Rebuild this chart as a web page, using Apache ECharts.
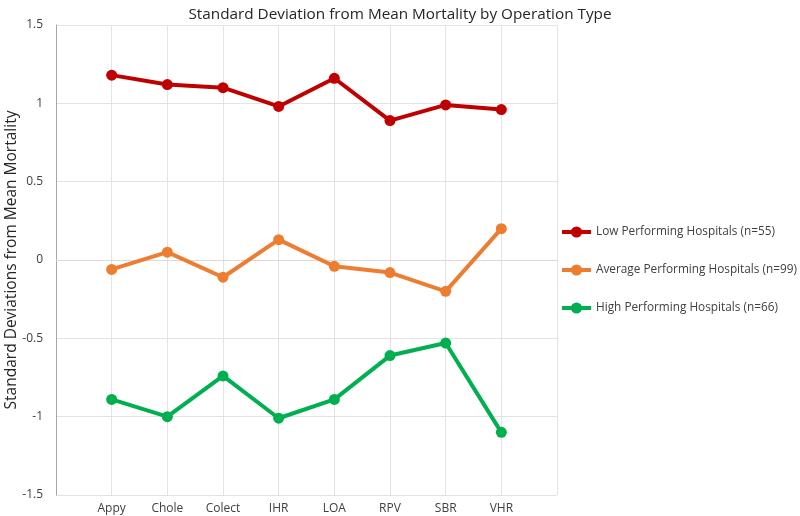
<!DOCTYPE html>
<html>
<head>
<meta charset="utf-8">
<script src="https://cdn.jsdelivr.net/npm/echarts@6/dist/echarts.min.js"></script>
<style>html,body{margin:0;padding:0;background:#fff}#c{width:800px;height:516px}</style>
</head>
<body>
<div id="c"></div>
<script>
var categories = ['Appy', 'Chole', 'Colect', 'IHR', 'LOA', 'RPV', 'SBR', 'VHR'];
var lowPerforming = [1.18, 1.12, 1.10, 0.98, 1.16, 0.89, 0.99, 0.96];
var averagePerforming = [-0.06, 0.05, -0.11, 0.13, -0.04, -0.08, -0.20, 0.20];
var highPerforming = [-0.89, -1.00, -0.74, -1.01, -0.89, -0.61, -0.53, -1.10];
var yTicks = { min: -1.5, max: 1.5, interval: 0.5 };

var axisCats = [''].concat(categories, ['']);
function pad(arr) { return [null].concat(arr, [null]); }

var font = 'Open Sans';
var chart = echarts.init(document.getElementById('c'));
function mk(name, data, color) {
  return {
    name: name, type: 'line', data: pad(data),
    symbol: 'circle', symbolSize: 11,
    lineStyle: { width: 4, color: color },
    itemStyle: { color: color },
    connectNulls: false, animation: false
  };
}
chart.setOption({
  animation: false,
  title: {
    text: 'Standard Deviation from Mean Mortality by Operation Type',
    left: 'center', top: 2,
    textStyle: { fontFamily: font, fontSize: 15.3, fontWeight: 'normal', color: '#262626' }
  },
  grid: { left: 56, right: 243, top: 25, bottom: 21, outerBoundsMode: 'none', containLabel: false },
  legend: {
    orient: 'vertical', left: 560, top: 224, padding: 0,
    itemWidth: 29, itemHeight: 14, itemGap: 22,
    lineStyle: { width: 4 },
    textStyle: { fontFamily: font, fontSize: 11.8, color: '#404040', lineHeight: 16 },
    data: ['Low Performing Hospitals (n=55)', 'Average Performing Hospitals (n=99)', 'High Performing Hospitals (n=66)']
  },
  xAxis: {
    type: 'category', data: axisCats, boundaryGap: false,
    axisLine: { show: true, lineStyle: { color: '#d9d9d9' } },
    axisTick: { show: false },
    axisLabel: { interval: 0, fontFamily: font, fontSize: 12, color: '#404040', margin: 8 },
    splitLine: { show: true, lineStyle: { color: '#e3e3e3' } }
  },
  yAxis: {
    type: 'value', min: yTicks.min, max: yTicks.max, interval: yTicks.interval,
    name: 'Standard Deviations from Mean Mortality', nameLocation: 'middle', nameGap: 36,
    nameMoveOverlap: false,
    nameTextStyle: { fontFamily: font, fontSize: 15.5, color: '#262626' },
    axisLine: { show: true, lineStyle: { color: '#a6a6a6' } },
    axisTick: { show: false },
    axisLabel: { fontFamily: font, fontSize: 12, color: '#404040', margin: 13 },
    splitLine: { show: true, lineStyle: { color: '#e3e3e3' } }
  },
  series: [
    mk('Low Performing Hospitals (n=55)', lowPerforming, '#C00000'),
    mk('Average Performing Hospitals (n=99)', averagePerforming, '#ED7D31'),
    mk('High Performing Hospitals (n=66)', highPerforming, '#00B050')
  ]
});
</script>
</body>
</html>
